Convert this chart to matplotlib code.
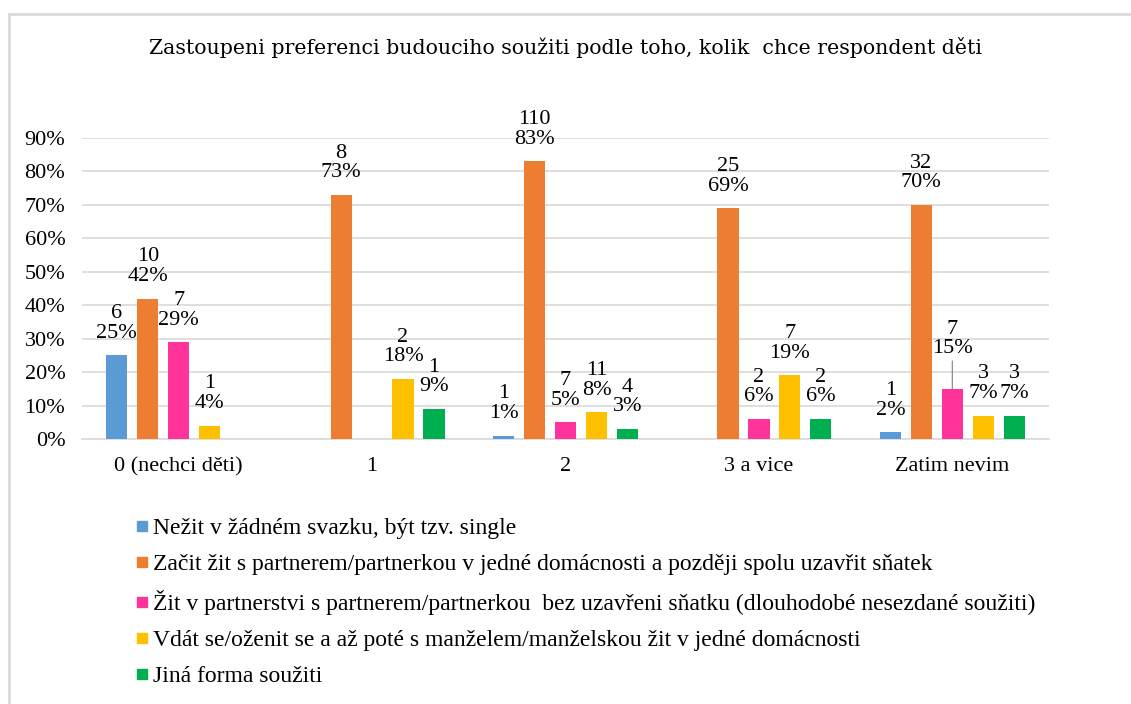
import matplotlib.pyplot as plt
from matplotlib.lines import Line2D
import numpy as np

plt.rcParams["font.family"] = ["Liberation Serif", "DejaVu Serif"]

title = "Zastoupeni preferenci budouciho soužiti podle toho, kolik  chce respondent děti"
categories = ["0 (nechci děti)", "1", "2", "3 a vice", "Zatim nevim"]
series_names = [
    "Nežit v žádném svazku, být tzv. single",
    "Začit žit s partnerem/partnerkou v jedné domácnosti a později spolu uzavřit sňatek",
    "Žit v partnerstvi s partnerem/partnerkou  bez uzavřeni sňatku (dlouhodobé nesezdané soužiti)",
    "Vdát se/oženit se a až poté s manželem/manželskou žit v jedné domácnosti",
    "Jiná forma soužiti",
]
# percentages per series (None = no bar)
pct_single = [25, None, 1, None, 2]
pct_cohab_then_marry = [42, 73, 83, 69, 70]
pct_cohab = [29, None, 5, 6, 15]
pct_marry_first = [4, 18, 8, 19, 7]
pct_other = [None, 9, 3, 6, 7]
# respondent counts per series
cnt_single = [6, None, 1, None, 1]
cnt_cohab_then_marry = [10, 8, 110, 25, 32]
cnt_cohab = [7, None, 7, 2, 7]
cnt_marry_first = [1, 2, 11, 7, 3]
cnt_other = [None, 1, 4, 2, 3]

colors = ["#5B9BD5", "#ED7D31", "#FF3399", "#FFC000", "#00B050"]

pcts = [pct_single, pct_cohab_then_marry, pct_cohab, pct_marry_first, pct_other]
cnts = [cnt_single, cnt_cohab_then_marry, cnt_cohab, cnt_marry_first, cnt_other]

fig = plt.figure(figsize=(11.31, 7.04), dpi=100)
ax = fig.add_axes([0.0725, 0.3764, 0.855, 0.4276])

x = np.arange(len(categories))
step = 0.16
width = 0.11

for s, (p, c) in enumerate(zip(pcts, cnts)):
    xs = x + (s - 2) * step
    for i in range(len(categories)):
        if p[i] is None:
            continue
        ax.bar(xs[i], p[i] / 100, width, color=colors[s], zorder=3)
        label = f"{c[i]}\n{p[i]}%"
        if s == 2 and i == 4:
            # label lifted with a leader line
            ax.annotate(label, xy=(xs[i], p[i] / 100), xytext=(0, 22),
                        textcoords="offset points", ha="center", va="bottom",
                        fontsize=16, linespacing=1.05, annotation_clip=False,
                        arrowprops=dict(arrowstyle="-", color="#7f7f7f", lw=0.8,
                                        shrinkA=0, shrinkB=0))
        else:
            ax.annotate(label, xy=(xs[i], p[i] / 100), xytext=(0, 9),
                        textcoords="offset points", ha="center", va="bottom",
                        fontsize=16, linespacing=1.05, annotation_clip=False)

ax.set_xlim(-0.5, len(categories) - 0.5)
ax.set_ylim(0, 0.9)
ax.set_yticks(np.arange(0, 0.91, 0.1))
ax.set_yticklabels([f"{int(round(v * 100))}%" for v in np.arange(0, 0.91, 0.1)], fontsize=16)
ax.set_xticks(x)
ax.set_xticklabels(categories, fontsize=16)
ax.tick_params(length=0)
ax.tick_params(axis="y", pad=12)
ax.tick_params(axis="x", pad=13)
ax.yaxis.grid(True, color="#d9d9d9", linewidth=1.2, zorder=0)
for side in ["top", "right", "left"]:
    ax.spines[side].set_visible(False)
ax.spines["bottom"].set_color("#d9d9d9")
ax.spines["bottom"].set_linewidth(1.2)

fig.text(0.5, 0.932, title, ha="center", va="center", fontsize=14.8,
         family=["DejaVu Serif"])

handles = [Line2D([0], [0], marker="s", linestyle="none", markersize=7,
                  markerfacecolor=col, markeredgecolor=col) for col in colors]
fig.legend(handles, series_names, loc="upper left", bbox_to_anchor=(0.108, 0.278),
           frameon=False, fontsize=17, handletextpad=0.0, labelspacing=0.62,
           handlelength=0.9, borderaxespad=0)

# light frame edges of the chart area
fig.add_artist(Line2D([9 / 1131, 9 / 1131], [0, 1 - 14 / 704], transform=fig.transFigure,
                      color="#d9d9d9", linewidth=2))
fig.add_artist(Line2D([9 / 1131, 1], [1 - 14 / 704, 1 - 14 / 704], transform=fig.transFigure,
                      color="#d9d9d9", linewidth=2))

fig.savefig("out.png", dpi=100)
